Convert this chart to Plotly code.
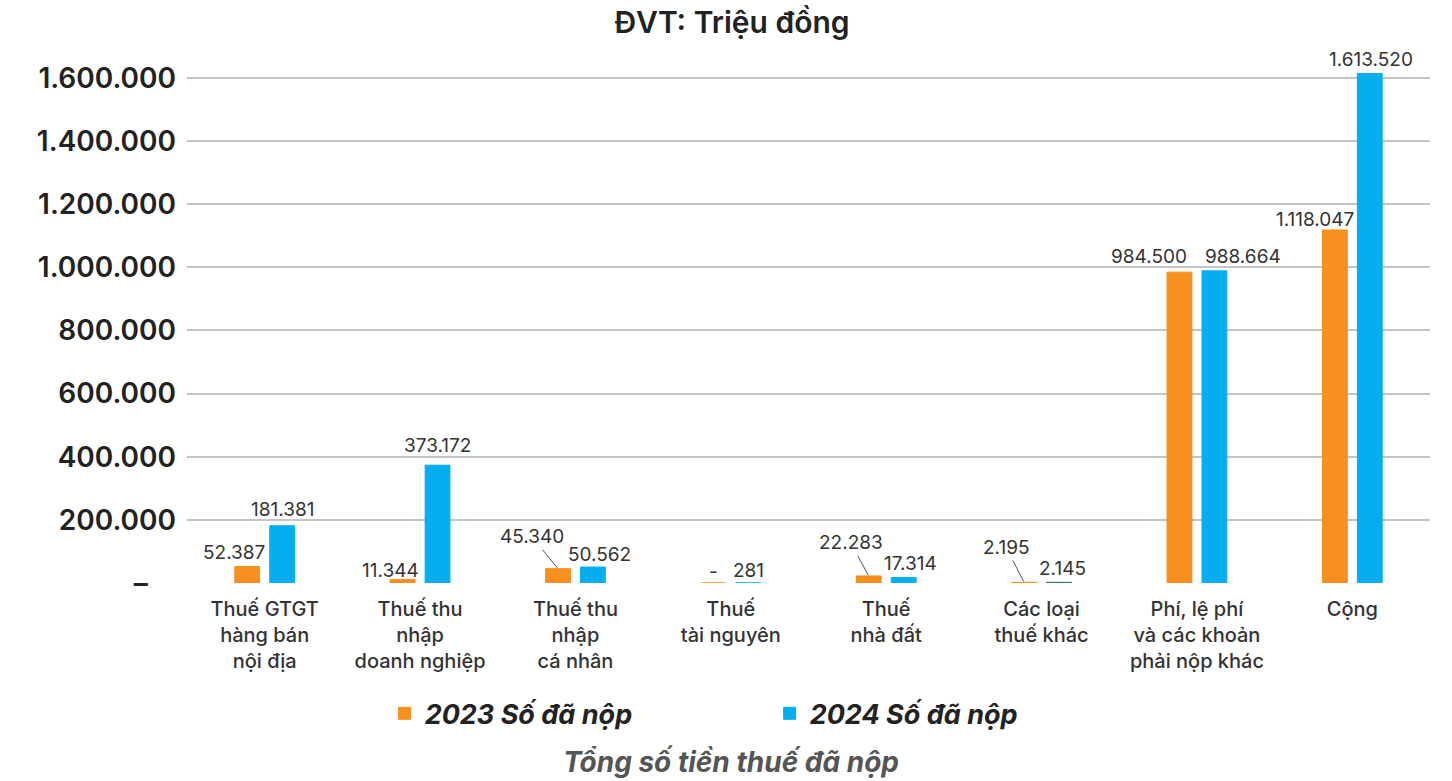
import plotly.graph_objects as go

categories = [
    "Thuế GTGT<br>hàng bán<br>nội địa",
    "Thuế thu<br>nhập<br>doanh nghiệp",
    "Thuế thu<br>nhập<br>cá nhân",
    "Thuế<br>tài nguyên",
    "Thuế<br>nhà đất",
    "Các loại<br>thuế khác",
    "Phí, lệ phí<br>và các khoản<br>phải nộp khác",
    "Cộng",
]
values_2023 = [52387, 11344, 45340, 0, 22283, 2195, 984500, 1118047]
values_2024 = [181381, 373172, 50562, 281, 17314, 2145, 988664, 1613520]
series_names = ["2023 Số đã nộp", "2024 Số đã nộp"]
y_tickvals = [0, 200000, 400000, 600000, 800000, 1000000, 1200000, 1400000, 1600000]
y_ticktext = ["–\u00a0\u00a0\u00a0\u00a0", "200.000", "400.000", "600.000", "800.000",
              "1.000.000", "1.200.000", "1.400.000", "1.600.000"]
title_text = "ĐVT: Triệu đồng"
caption_text = "Tổng số tiền thuế đã nộp"

# styles
ORANGE = "#F7901E"
BLUE = "#06AEEF"
GREEN = "#2E7D5B"
colors_2024 = [BLUE, BLUE, BLUE, BLUE, BLUE, GREEN, BLUE, BLUE]
FONT = "Inter"
BARGAP = 0.55
# label offsets in px relative to bar top centre: (dx, dy up), and leader-line flag
off_2023 = [(-13, 14, False), (-12, 9, False), (-26, 32, True), (0, 12, False),
            (-18, 33, True), (-18, 35, True), (-30, 16, False), (-20, 10, False)]
off_2024 = [(0, 16, False), (0, 20, False), (7, 13, False), (0, 12, False),
            (7, 14, False), (3, 14, False), (29, 14, False), (1, 14, False)]


def fmt(v):
    return "-" if v == 0 else f"{v:,}".replace(",", ".")


idx = list(range(len(categories)))
fig = go.Figure()
fig.add_trace(go.Bar(x=idx, y=values_2023, name=series_names[0],
                     marker=dict(color=ORANGE, line=dict(color=ORANGE, width=1))))
fig.add_trace(go.Bar(x=idx, y=values_2024, name=series_names[1],
                     marker=dict(color=colors_2024, line=dict(color=colors_2024, width=1))))

slot = (1 - BARGAP) / 2
annotations = []
for vals, offs, sign in ((values_2023, off_2023, -1), (values_2024, off_2024, 1)):
    for i, (v, (dx, dy, leader)) in enumerate(zip(vals, offs)):
        xpos = i + sign * slot / 2
        if leader:
            annotations.append(dict(x=xpos, y=v, xref="x", yref="y", text=fmt(v),
                                    showarrow=True, arrowhead=0, arrowwidth=1,
                                    arrowcolor="#555", ax=dx, ay=-dy, standoff=1,
                                    font=dict(family=FONT, size=19, color="#333")))
        else:
            annotations.append(dict(x=xpos, y=v, xref="x", yref="y", text=fmt(v),
                                    showarrow=False, xshift=dx, yshift=dy,
                                    xanchor="center", yanchor="middle",
                                    font=dict(family=FONT, size=19, color="#333")))

annotations.append(dict(x=0.4377, y=-0.343, xref="paper", yref="paper", text=caption_text,
                        showarrow=False, xanchor="center", yanchor="middle",
                        font=dict(family=FONT, size=28, color="#555", weight="bold",
                                  style="italic")))

fig.update_layout(
    width=1452, height=781,
    margin=dict(l=187, r=22, t=62, b=198),
    paper_bgcolor="white", plot_bgcolor="white",
    barmode="group", bargap=BARGAP, bargroupgap=0.29,
    title=dict(text=title_text, x=732 / 1452, xanchor="center", y=1 - 22 / 781,
               yanchor="middle",
               font=dict(family=FONT, size=30, color="#222", weight=600)),
    xaxis=dict(tickmode="array", tickvals=idx, ticktext=categories,
               range=[-0.5, len(categories) - 0.5], showgrid=False, zeroline=False,
               showline=False, ticks="", ticklabelstandoff=12,
               tickfont=dict(family=FONT, size=20, color="#333", weight=500)),
    yaxis=dict(tickmode="array", tickvals=y_tickvals, ticktext=y_ticktext,
               range=[0, 1650000], showgrid=True, gridcolor="#c4c4c4", gridwidth=1.5,
               zeroline=False, showline=False, ticks="", ticklabelstandoff=10,
               tickfont=dict(family=FONT, size=28, color="#222", weight=600)),
    legend=dict(orientation="h", x=0.159, xanchor="left", y=-0.251, yanchor="middle",
                entrywidth=340, entrywidthmode="pixels",
                font=dict(family=FONT, size=27, color="#222", weight="bold",
                          style="italic")),
    annotations=annotations,
)

fig.write_html("out.html", config={"displayModeBar": False},
               post_script="document.body.style.margin='0';document.body.style.overflow='hidden';")
